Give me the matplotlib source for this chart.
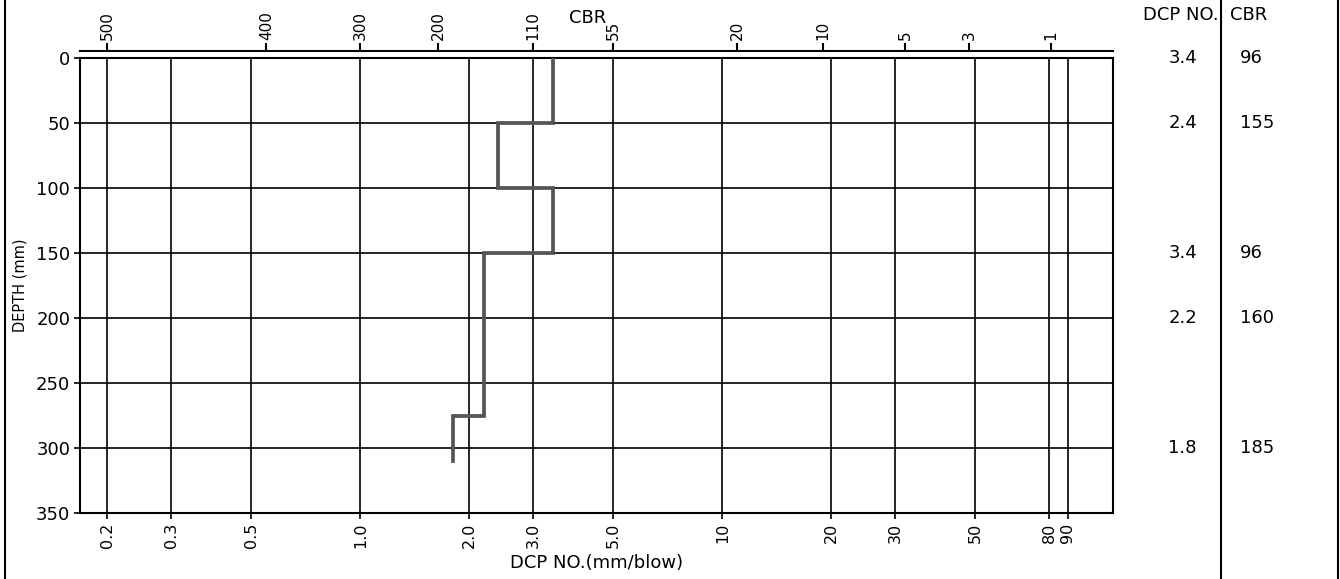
import numpy as np
import matplotlib
matplotlib.use("Agg")
import matplotlib.pyplot as plt
from matplotlib.lines import Line2D
from matplotlib.ticker import FixedLocator, NullLocator, FixedFormatter

# layer profile
layer_top = [0, 50, 100, 150, 275]
layer_bottom = [50, 100, 150, 275, 310]
layer_dcp = [3.4, 2.4, 3.4, 2.2, 1.8]

# summary table on the right
table_dcp = ["3.4", "2.4", "3.4", "2.2", "1.8"]
table_cbr = ["96", "155", "96", "160", "185"]
table_depth = [0, 50, 150, 200, 300]

# bottom scale (DCP, mm/blow)
dcp_ticks = [0.2, 0.3, 0.5, 1.0, 2.0, 3.0, 5.0, 10, 20, 30, 50, 80, 90]
dcp_tick_labels = ["0.2", "0.3", "0.5", "1.0", "2.0", "3.0", "5.0", "10", "20", "30", "50", "80", "90"]

# top scale (CBR) and the DCP value each CBR mark sits over
cbr_tick_labels = ["500", "400", "300", "200", "110", "55", "20", "10", "5", "3", "1"]
cbr_tick_dcp = [0.2, 0.55, 1.0, 1.64, 3.0, 5.0, 11.0, 19.0, 32.0, 48.0, 81.0]

depth_ticks = [0, 50, 100, 150, 200, 250, 300, 350]

fig = plt.figure(figsize=(13.4, 5.79), dpi=100)
ax = fig.add_axes([80 / 1340, 1 - 513 / 579, (1113 - 80) / 1340, (513 - 58) / 579])

ax.set_xscale("log")
ax.set_xlim(0.168, 120)
ax.set_ylim(350, 0)

# grid lines on the DCP values and every 50 mm
for v in dcp_ticks:
    ax.axvline(v, color="black", lw=1.2, zorder=1)
for d in depth_ticks[1:-1]:
    ax.axhline(d, color="black", lw=1.2, zorder=1)

# the stepped DCP profile
xs, ys = [], []
for top, bot, v in zip(layer_top, layer_bottom, layer_dcp):
    xs += [v, v]
    ys += [top, bot]
ax.plot(xs, ys, color="#555555", lw=2.7, solid_joinstyle="miter", zorder=3)

ax.xaxis.set_major_locator(FixedLocator(dcp_ticks))
ax.xaxis.set_major_formatter(FixedFormatter(dcp_tick_labels))
ax.xaxis.set_minor_locator(NullLocator())
ax.set_yticks(depth_ticks)
ax.set_yticklabels([str(d) for d in depth_ticks])
ax.tick_params(axis="x", labelrotation=90, labelsize=11.5)
ax.tick_params(axis="y", labelsize=13)
ax.tick_params(axis="both", direction="out", length=4, width=1.2, pad=3)
ax.set_xlabel("DCP NO.(mm/blow)", fontsize=13, labelpad=4)
ax.set_ylabel("DEPTH (mm)", fontsize=10.5, labelpad=6)
for s in ax.spines.values():
    s.set_linewidth(1.5)

# CBR scale on top, slightly above the plot box
top = ax.twiny()
top.set_xscale("log")
top.set_xlim(ax.get_xlim())
top.xaxis.set_major_locator(FixedLocator(cbr_tick_dcp))
top.xaxis.set_major_formatter(FixedFormatter(cbr_tick_labels))
top.xaxis.set_minor_locator(NullLocator())
top.tick_params(axis="x", direction="out", length=6, width=1.5, pad=2,
                labelrotation=90, labelsize=11)
top.spines["top"].set_position(("outward", 5))
top.spines["top"].set_linewidth(1.5)
for k in ["left", "right", "bottom"]:
    top.spines[k].set_visible(False)
fig.text(588 / 1340, 1 - 18 / 579, "CBR", fontsize=13, ha="center", va="center")

# right-hand table
trans = ax.get_yaxis_transform()
for d, a, b in zip(table_depth, table_dcp, table_cbr):
    ax.text((1197 - 80) / 1033, d, a, transform=trans, ha="right", va="center",
            fontsize=13, clip_on=False)
    ax.text((1240 - 80) / 1033, d, b, transform=trans, ha="left", va="center",
            fontsize=13, clip_on=False)
fig.text(1219 / 1340, 1 - 15 / 579, "DCP NO.", fontsize=13, ha="right", va="center")
fig.text(1230 / 1340, 1 - 15 / 579, "CBR", fontsize=13, ha="left", va="center")

# outer frame lines
for xp in [5, 1221, 1338]:
    fig.add_artist(Line2D([xp / 1340, xp / 1340], [0, 1], color="black", lw=1.5,
                          transform=fig.transFigure))

fig.savefig("out.png", dpi=100)
